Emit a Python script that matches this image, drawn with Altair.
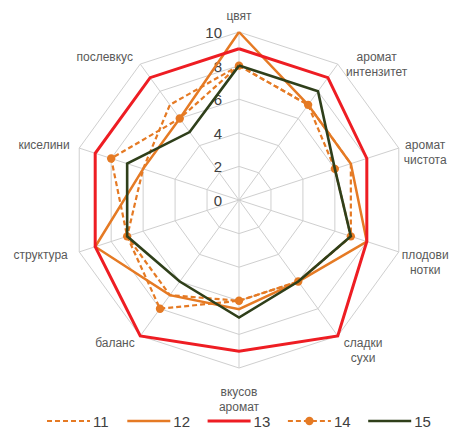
import altair as alt
import pandas as pd

# ---------------- data ----------------
categories = ["цвят", "аромат\nинтензитет", "аромат\nчистота", "плодови\nнотки", "сладки\nсухи",
              "вкусов\nаромат", "баланс", "структура", "киселини", "послевкус"]
series_names = ["11", "12", "13", "14", "15"]
s11 = [8, 7, 7, 7, 6, 6, 7, 7, 6, 7]
s12 = [10, 7, 7, 8, 6, 6.5, 7, 9, 6, 6]
s13 = [9, 9, 8, 8, 10, 9, 10, 9, 9, 9]
s14 = [8, 7, 6, 7, 6, 6, 8, 7, 8, 6]
s15 = [8, 8, 6, 7, 6, 7, 6, 7, 7, 5]
grid_levels = [2, 4, 6, 8, 10]
tick_values = [0, 2, 4, 6, 8, 10]

# ---------------- layout / style ----------------
W, H = 443, 423
PX = 16.8            # pixels per unit
CX, CY = 231, 192    # centre in plot coordinates
xs = alt.Scale(domain=[-CX / PX, (W - CX) / PX], nice=False, zero=False)
ys = alt.Scale(domain=[-(H - CY) / PX, CY / PX], nice=False, zero=False)
N = len(categories)
ORANGE = "#E57A24"
RED = "#EE1D23"
GREEN = "#2F3F1A"
GRID = "#cfcfcf"
FONT = "Liberation Sans"
CHAR_HALF = 3.4   # approx half width of one label character, px

styles = {
    "11": dict(color=ORANGE, dash=[5, 3], width=2.2, points=False),
    "12": dict(color=ORANGE, dash=None, width=2.5, points=False),
    "13": dict(color=RED, dash=None, width=3, points=False),
    "14": dict(color=ORANGE, dash=[5, 3], width=2.2, points=True),
    "15": dict(color=GREEN, dash=None, width=2.6, points=False),
}
series_vals = {"11": s11, "12": s12, "13": s13, "14": s14, "15": s15}

polar = dict(
    ang=f"datum.k * 2 * PI / {N}",
    px="datum.v * sin(datum.ang)",
    py="datum.v * cos(datum.ang)",
)


def xy(chart):
    return chart.transform_calculate(ang=polar["ang"]).transform_calculate(
        px=polar["px"], py=polar["py"])


X = alt.X("px:Q", scale=xs, axis=None)
Y = alt.Y("py:Q", scale=ys, axis=None)

# grid polygons
grid_df = pd.DataFrame([{"lvl": l, "k": k, "v": l} for l in grid_levels for k in range(N + 1)])
grid = xy(alt.Chart(grid_df)).mark_line(color=GRID, strokeWidth=1).encode(
    x=X, y=Y, detail="lvl:N", order="k:Q")

# spokes
spoke_df = pd.DataFrame({"k": list(range(N)), "v": [max(grid_levels)] * N})
spokes = xy(alt.Chart(spoke_df)).transform_calculate(zx="0", zy="0").mark_rule(
    color=GRID, strokeWidth=1).encode(
    x=alt.X("zx:Q", scale=xs, axis=None), y=alt.Y("zy:Q", scale=ys, axis=None),
    x2="px:Q", y2="py:Q")

# radial tick labels
tick_df = pd.DataFrame({"v": tick_values, "t": [str(v) for v in tick_values], "zx": [0] * len(tick_values)})
ticks = alt.Chart(tick_df).mark_text(align="right", baseline="middle", dx=-17, dy=1,
                                     fontSize=15, font=FONT, color="#404040").encode(
    x=alt.X("zx:Q", scale=xs, axis=None), y=alt.Y("v:Q", scale=ys, axis=None), text="t:N")

# category labels
lab_df = pd.DataFrame({
    "k": list(range(N)),
    "lab": categories,
    "nch": [max(len(s) for s in c.split("\n")) for c in categories],
    "nl": [len(c.split("\n")) for c in categories],
})
labels = alt.Chart(lab_df).transform_calculate(
    ang=polar["ang"]
).transform_calculate(
    s="sin(datum.ang)", c="cos(datum.ang)"
).transform_calculate(
    lxp=f"10.5 * {PX} * datum.s + (abs(datum.s) > 0.3 ? (datum.s > 0 ? 1 : -1) * datum.nch * {CHAR_HALF} : 0)",
    ly=f"10.5 * datum.c + (abs(datum.s) < 0.3 ? (datum.c > 0 ? 1 : -1) * datum.nl * 8 / {PX} : 0)",
).transform_calculate(
    lx=f"min(datum.lxp, {W - CX - 2} - datum.nch * {CHAR_HALF}) / {PX}",
).mark_text(align="center", baseline="middle", lineBreak="\n", lineHeight=15,
            fontSize=12, font=FONT, color="#595959").encode(
    x=alt.X("lx:Q", scale=xs, axis=None), y=alt.Y("ly:Q", scale=ys, axis=None), text="lab:N")

layers = [grid, spokes, ticks, labels]

# series
for name in series_names:
    st = styles[name]
    vals = series_vals[name]
    df = pd.DataFrame({"k": list(range(N + 1)), "v": [vals[k % N] for k in range(N + 1)]})
    kw = dict(color=st["color"], strokeWidth=st["width"])
    if st["dash"]:
        kw["strokeDash"] = st["dash"]
    line = xy(alt.Chart(df)).mark_line(**kw).encode(x=X, y=Y, order="k:Q")
    layers.append(line)
    if st["points"]:
        pts = xy(alt.Chart(df[df.k < N])).mark_point(
            filled=True, size=70, opacity=1, color=st["color"]).encode(x=X, y=Y)
        layers.append(pts)

# legend (layout positions)
LEG_Y = 413
for i, name in enumerate(series_names):
    st = styles[name]
    x0 = 39 + 80.3 * i
    kw = dict(color=st["color"], strokeWidth=st["width"])
    if st["dash"]:
        kw["strokeDash"] = st["dash"]
    leg_df = pd.DataFrame({"name": [name]})
    layers.append(alt.Chart(leg_df).mark_rule(**kw).encode(
        x=alt.value(x0), x2=alt.value(x0 + 43), y=alt.value(LEG_Y)))
    if st["points"]:
        layers.append(alt.Chart(leg_df).mark_point(filled=True, size=70, opacity=1,
                                                   color=st["color"]).encode(
            x=alt.value(x0 + 21.5), y=alt.value(LEG_Y)))
    layers.append(alt.Chart(leg_df).mark_text(align="left", baseline="middle", fontSize=15,
                                              font=FONT, color="#404040").encode(
        x=alt.value(x0 + 46), y=alt.value(LEG_Y + 1), text="name:N"))

chart = alt.layer(*layers).properties(
    width=W, height=H, autosize=alt.AutoSizeParams(type="none"),
    padding={"left": 0, "top": 0, "right": 0, "bottom": 0},
).configure_view(stroke=None)

chart.save("out.html", embed_options={"renderer": "svg", "actions": False})
